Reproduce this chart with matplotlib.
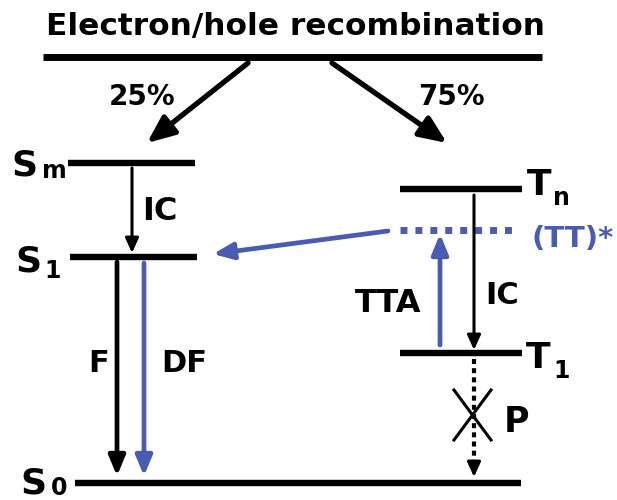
#!/usr/bin/env python3
"""Energy level scheme: electron/hole recombination with triplet-triplet annihilation."""

import matplotlib
matplotlib.use("Agg")
import matplotlib.pyplot as plt
from matplotlib.lines import Line2D

BLUE = "#4a5cb2"
FONT = "DejaVu Sans"

title = "Electron/hole recombination"
branch_labels = ["25%", "75%"]

# singlet / triplet energies as picture rows (y grows downwards)
singlet_names = [("S", "m"), ("S", "1"), ("S", "0")]
singlet_y = [163, 257, 483]
triplet_names = [("T", "n"), ("T", "1")]
triplet_y = [189, 353]
tt_name = "(TT)*"
tt_y = 230

process_labels = {"ic": "IC", "f": "F", "df": "DF", "tta": "TTA", "p": "P"}


def level(ax, x0, x1, y, color="black", lw=4.6):
    ax.add_line(Line2D([x0, x1], [y, y], color=color, lw=lw, solid_capstyle="butt"))


def arrow(ax, start, end, color="black", lw=2.5, hl=0.6, hw=0.25, ms=20):
    ax.annotate("", xy=end, xytext=start,
                arrowprops=dict(arrowstyle=f"-|>,head_length={hl},head_width={hw}",
                                color=color, lw=lw, mutation_scale=ms,
                                shrinkA=0, shrinkB=0))


def txt(ax, x, y, s, size, color="black", ha="left"):
    ax.text(x, y, s, fontsize=size, fontweight="bold", family=FONT,
            ha=ha, va="baseline", color=color)


def state(ax, x, y, names, sub_x, sub_y, size=26, sub_size=17):
    main, sub = names
    txt(ax, x, y, main, size)
    txt(ax, sub_x, sub_y, sub, sub_size)


def main():
    fig = plt.figure(figsize=(6.17, 5.0), dpi=100)
    ax = fig.add_axes([0, 0, 1, 1])
    ax.set_xlim(0, 617)
    ax.set_ylim(500, 0)
    ax.axis("off")

    # title and top level
    txt(ax, 296, 35, title, 22.5, ha="center")
    level(ax, 43, 542, 57, lw=5)

    # branching arrows
    arrow(ax, (248, 63), (147, 143), lw=3.8, hl=0.75, hw=0.32, ms=22)
    arrow(ax, (332, 63), (447, 143), lw=3.8, hl=0.75, hw=0.32, ms=22)
    txt(ax, 142, 105, branch_labels[0], 20, ha="center")
    txt(ax, 451, 105, branch_labels[1], 20, ha="center")

    # singlet levels
    sm_y, s1_y, s0_y = singlet_y
    level(ax, 68, 195, sm_y)
    level(ax, 70, 197, s1_y)
    level(ax, 75, 521, s0_y)
    state(ax, 11, sm_y + 12, singlet_names[0], 42, sm_y + 15)
    state(ax, 15, s1_y + 14, singlet_names[1], 44, s1_y + 21)
    state(ax, 20, s0_y + 10, singlet_names[2], 51, s0_y + 12)

    # triplet levels
    tn_y, t1_y = triplet_y
    level(ax, 400, 522, tn_y)
    level(ax, 400, 522, t1_y)
    state(ax, 527, tn_y + 6, triplet_names[0], 553, tn_y + 16)
    state(ax, 526, t1_y + 15, triplet_names[1], 553, t1_y + 25)

    # (TT)* level
    ax.add_line(Line2D([400, 516], [tt_y, tt_y], color=BLUE, lw=5, dashes=(1.0, 1.15),
                       dash_capstyle="butt"))
    txt(ax, 532, tt_y + 17, tt_name, 21, color=BLUE)

    # internal conversion
    arrow(ax, (132, 168), (132, s1_y - 4), lw=2.2, hl=0.55, hw=0.25, ms=16)
    txt(ax, 142, 220, process_labels["ic"], 23)
    arrow(ax, (474, 195), (474, t1_y - 3), lw=2.2, hl=0.55, hw=0.25, ms=16)
    txt(ax, 485, 304, process_labels["ic"], 22)

    # fluorescence / delayed fluorescence
    arrow(ax, (117, 262), (117, 476), lw=3.4)
    arrow(ax, (144, 263), (144, 476), lw=3.4, color=BLUE)
    txt(ax, 88, 372, process_labels["f"], 22)
    txt(ax, 161, 372, process_labels["df"], 22)

    # TTA up-conversion and transfer to S1
    arrow(ax, (440, 345), (440, 234), lw=3.4, color=BLUE)
    txt(ax, 355, 312, process_labels["tta"], 23)
    arrow(ax, (388, 231), (213, 254), lw=3.4, color=BLUE)

    # forbidden phosphorescence: dotted shaft, small solid head, crossed out
    ax.add_line(Line2D([474, 474], [359, 466], color="black", lw=3.0,
                       dashes=(1.2, 1.0), dash_capstyle="butt"))
    arrow(ax, (474, 466), (474, 477), lw=2.2, hl=0.55, hw=0.25, ms=16)
    ax.add_line(Line2D([454, 491], [390, 440], color="black", lw=2.2))
    ax.add_line(Line2D([454, 491], [440, 390], color="black", lw=2.2))
    txt(ax, 504, 432, process_labels["p"], 25)

    fig.savefig("out.png", dpi=100)


if __name__ == "__main__":
    main()
